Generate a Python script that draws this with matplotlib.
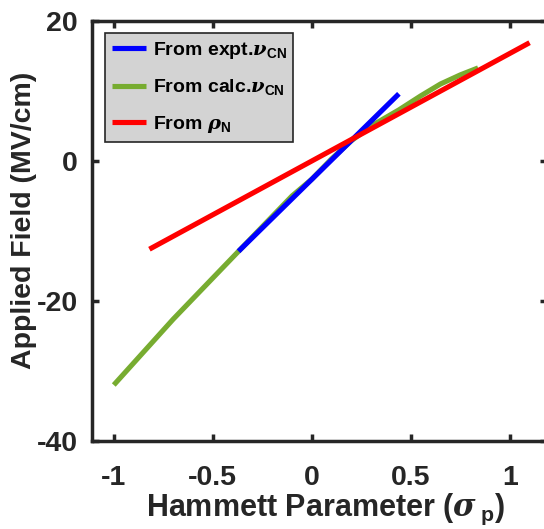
import matplotlib
matplotlib.use("Agg")
import matplotlib.pyplot as plt

plt.rcParams['font.family'] = ['Liberation Sans', 'DejaVu Sans']
plt.rcParams['font.weight'] = 'bold'
plt.rcParams['mathtext.fontset'] = 'custom'
plt.rcParams['mathtext.rm'] = 'Liberation Sans:bold'
plt.rcParams['mathtext.bf'] = 'Liberation Sans:bold'
plt.rcParams['mathtext.it'] = 'DejaVu Serif:italic'

# Data
expt_x = [-0.37, 0.44]
expt_y = [-12.9, 9.6]

calc_x = [-1.0, -0.7, -0.37, -0.1, 0.0, 0.1, 0.2, 0.3, 0.44, 0.55, 0.65, 0.75, 0.84]
calc_y = [-32.0, -22.6, -12.9, -5.0, -2.6, 0.3, 2.9, 5.0, 7.3, 9.3, 11.0, 12.3, 13.3]

rho_x = [-0.82, 1.10]
rho_y = [-12.6, 16.9]

xticks = [-1, -0.5, 0, 0.5, 1]
xticklabels = ['-1', '-0.5', '0', '0.5', '1']
yticks = [-40, -20, 0, 20]
yticklabels = ['-40', '-20', '0', '20']

fig = plt.figure(figsize=(5.44, 5.29), dpi=100)
ax = fig.add_axes([92/544, 88/529, 455/544, 420/529])

ax.plot(expt_x, expt_y, color='#0000ff', lw=3.7, solid_capstyle='butt',
        label=r'From expt.$\nu_{\mathbf{CN}}$', zorder=3)
ax.plot(calc_x, calc_y, color='#77ac30', lw=3.7, solid_capstyle='butt',
        label=r'From calc.$\nu_{\mathbf{CN}}$', zorder=2)
ax.plot(rho_x, rho_y, color='#ff0000', lw=3.7, solid_capstyle='butt',
        label=r'From $\rho_{\mathbf{N}}$', zorder=4)

ax.set_xlim(-1.11, 1.188)
ax.set_ylim(-40, 20)
ax.set_xticks(xticks)
ax.set_xticklabels(xticklabels)
ax.set_yticks(yticks)
ax.set_yticklabels(yticklabels)

for s in ax.spines.values():
    s.set_linewidth(2.5)
    s.set_color('#262626')
ax.tick_params(direction='in', length=5, width=2.5, top=True, right=True,
               labelsize=20.5, colors='#262626')
ax.tick_params(axis='x', pad=17)
ax.tick_params(axis='y', pad=10)
for t in ax.yaxis.get_ticklines()[1::2]:
    t.set_color('#c8c8c8')
for lab in ax.get_xticklabels() + ax.get_yticklabels():
    lab.set_fontweight('bold')

ax.set_xlabel(r'Hammett Parameter ($\sigma\,_{\mathbf{p}}$)', fontsize=22,
              fontweight='bold', color='#262626')
ax.set_ylabel('Applied Field (MV/cm)', fontsize=20.5, fontweight='bold', color='#262626')
ax.xaxis.set_label_coords(0.514, -0.122)
ax.yaxis.set_label_coords(-0.12, 0.525)

leg = ax.legend(loc='upper left', bbox_to_anchor=(13/455, 1 - 12/420),
                frameon=True, fancybox=False, handlelength=1.75,
                borderpad=0.35, labelspacing=0.85, handletextpad=0.35,
                borderaxespad=0.0,
                prop={'weight': 'bold', 'size': 14})
leg.get_frame().set_facecolor('#d3d3d3')
leg.get_frame().set_edgecolor('#262626')
leg.get_frame().set_linewidth(1.2)
leg.get_frame().set_alpha(1)

fig.savefig('out.png', dpi=100)
